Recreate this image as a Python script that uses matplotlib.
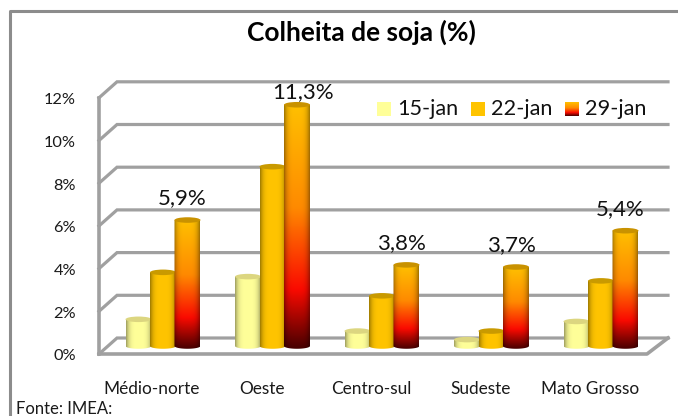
import numpy as np
import matplotlib
matplotlib.use("Agg")
import matplotlib.pyplot as plt
from matplotlib.colors import LinearSegmentedColormap
from matplotlib.patches import Ellipse, Polygon, Rectangle

plt.rcParams["font.family"] = ["Lato", "DejaVu Sans"]

# Data
regions = ["Médio-norte", "Oeste", "Centro-sul", "Sudeste", "Mato Grosso"]
series_names = ["15-jan", "22-jan", "29-jan"]
jan15 = [1.25, 3.25, 0.7, 0.3, 1.15]
jan22 = [3.45, 8.4, 2.35, 0.7, 3.05]
jan29 = [5.9, 11.3, 3.8, 3.7, 5.4]
labels_29 = ["5,9%", "11,3%", "3,8%", "3,7%", "5,4%"]
y_ticks = [0, 2, 4, 6, 8, 10, 12]

W, H = 678, 416
GROUP_X0, GROUP_DX = 163, 109.5  # pixel centre of first group, group spacing
ZERO_Y, UNIT_Y = 346, 21.35      # pixel of 0% at the bars, pixels per 1%
GRID = "#a0a0a0"


def px(x, y):
    # pixel position on the picture -> data position
    return (x - GROUP_X0) / GROUP_DX, (ZERO_Y - y) / UNIT_Y


# Colours of each cylinder, top to bottom
yellow = LinearSegmentedColormap.from_list("y", ["#ffff99", "#ffff99"])
orange = LinearSegmentedColormap.from_list("o", ["#ffc400", "#ffc400"])
fire = LinearSegmentedColormap.from_list(
    "f", [(0, "#ffc000"), (0.42, "#ff8a00"), (0.76, "#fa0a00"), (1, "#480000")])
lids = ["#dcd680", "#c99a00", "#c99200"]
cmaps = [yellow, orange, fire]


def cylinder(ax, xc, value, cmap, lid, width=0.2374, b=0.13):
    # horizontal shading * vertical colour ramp, clipped to the cylinder shape
    n = 64
    ramp = cmap(np.linspace(0, 1, 128))[:, :3]
    u = np.linspace(0, 1, n)
    shade = 0.62 + 0.38 * np.clip(1 - ((u - 0.5) / 0.5) ** 4, 0, 1)
    img = ramp[:, None, :] * shade[None, :, None]
    x0, x1 = xc - width / 2, xc + width / 2
    im = ax.imshow(img, extent=(x0, x1, -b, value), aspect="auto",
                   origin="upper", interpolation="bilinear", zorder=3)
    t = np.linspace(0, np.pi, 30)
    bottom = np.column_stack([xc - width / 2 * np.cos(t), -b * np.sin(t)])
    outline = np.vstack([bottom, [[x1, value], [x0, value]]])
    clip = Polygon(outline, closed=True, transform=ax.transData)
    im.set_clip_path(clip)
    ax.add_patch(Ellipse((xc, value), width, 2 * b, facecolor=lid, edgecolor="none", zorder=3))


fig = plt.figure(figsize=(W / 100, H / 100), dpi=100, facecolor="white")
ax = fig.add_axes([0, 0, 1, 1])
ax.axis("off")
x_lim = ((0 - GROUP_X0) / GROUP_DX, (W - GROUP_X0) / GROUP_DX)
y_lim = ((ZERO_Y - H) / UNIT_Y, ZERO_Y / UNIT_Y)

# Chart frame (open on the right and at the bottom)
fx0, fy0 = px(10, H + 5)
fx1, fy1 = px(W + 5, 11)
ax.plot([fx0, fx0, fx1], [fy0, fy1, fy1], color="#8c8c8c", lw=2.2, zorder=1)

# Walls and floor
left_front, _ = px(99, 0)
left_back, _ = px(117, 0)
right_back, _ = px(668, 0)
right_front, _ = px(647, 0)
front = -8 / UNIT_Y
back = 8 / UNIT_Y
for v in y_ticks:
    ax.plot([left_front, left_back, right_back], [v + front, v + back, v + back],
            color=GRID, lw=2.3, solid_joinstyle="miter", zorder=2)
ax.plot([left_front, left_front], [front, 12 + front], color=GRID, lw=2.6, zorder=2)
ax.plot([left_front, right_front, right_back], [front, front, back], color=GRID, lw=2.6, zorder=2)

# Bars
all_series = [jan15, jan22, jan29]
for i, values in enumerate(all_series):
    for j, v in enumerate(values):
        cylinder(ax, j + (i - 1) * 0.2237, v, cmaps[i], lids[i])

# Value labels over the last series
for j, v in enumerate(jan29):
    dx, dy = (6, 13) if j == 1 else (-5, 22)
    lx, _ = px(GROUP_X0 + j * GROUP_DX + 24.5 + dx, 0)
    ax.text(lx, v + dy / UNIT_Y, labels_29[j], ha="center", va="center",
            fontsize=16, color="#111111", zorder=5)

# Axis labels
tx, _ = px(76, 0)
for v in y_ticks:
    ax.text(tx, v - 10.5 / UNIT_Y, f"{v}%", ha="right", va="center", fontsize=11.8,
            color="#1a1a1a", zorder=5)
for j, name in enumerate(regions):
    lx, ly = px(GROUP_X0 + j * GROUP_DX - 11, 389)
    ax.text(lx, ly, name, ha="center", va="center", fontsize=12.4, color="#1a1a1a", zorder=5)

# Legend
legend_x = [377, 471, 565]
for i, name in enumerate(series_names):
    x0, y1 = px(legend_x[i], 102)
    x1, y0 = px(legend_x[i] + 14, 116)
    if i < 2:
        ax.add_patch(Rectangle((x0, y0), x1 - x0, y1 - y0, zorder=4,
                               facecolor=cmaps[i](0.5), edgecolor="none"))
    else:
        ramp = fire(np.linspace(0, 1, 64))[:, :3][:, None, :]
        ax.imshow(ramp, extent=(x0, x1, y0, y1), aspect="auto", origin="upper", zorder=4)
    lx, ly = px(legend_x[i] + 20, 109)
    ax.text(lx, ly, name, ha="left", va="center", fontsize=15.6, color="#111111", zorder=5)

# Title and source
lx, ly = px(361, 32)
ax.text(lx, ly, "Colheita de soja (%)", ha="center", va="center", fontsize=19,
        fontweight="bold", color="black", zorder=5)
lx, ly = px(16, 408.5)
ax.text(lx, ly, "Fonte: IMEA:", ha="left", va="center", fontsize=12, color="#1a1a1a", zorder=5)

ax.set_xlim(x_lim)
ax.set_ylim(y_lim)
fig.savefig("out.png", dpi=100)
